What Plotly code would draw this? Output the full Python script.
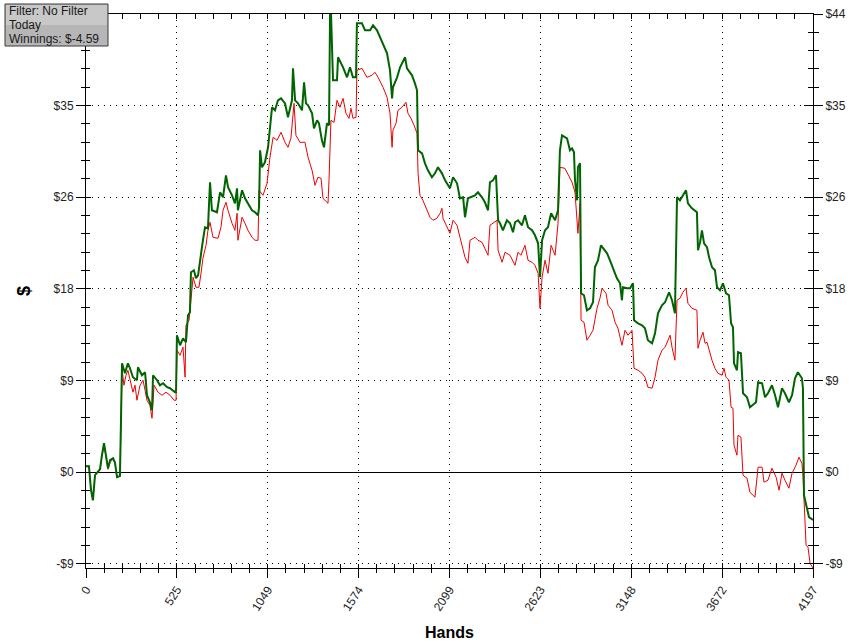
import plotly.graph_objects as go

# ---- data ----
green_hands = [0, 17, 29, 40, 52, 64, 81, 92, 104, 115, 127, 139, 156, 167, 179, 196, 202, 208, 225, 242,
               254, 271, 294, 300, 323, 341, 352, 369, 381, 387, 410, 427, 445, 468, 485, 514, 520, 525, 543, 560,
               577, 589, 600, 606, 623, 635, 647, 664, 675, 687, 704, 716, 727, 756, 774, 791, 808, 820, 843, 860,
               872, 877, 901, 918, 935, 958, 976, 993, 999, 1005, 1016, 1033, 1051, 1062, 1074, 1091, 1108, 1126, 1149, 1166,
               1178, 1189, 1195, 1207, 1224, 1247, 1259, 1270, 1282, 1305, 1316, 1334, 1345, 1362, 1374, 1391, 1403, 1409, 1414, 1426,
               1449, 1455, 1484, 1495, 1507, 1524, 1541, 1559, 1564, 1593, 1611, 1640, 1657, 1680, 1715, 1738, 1755, 1767, 1772, 1796,
               1813, 1842, 1853, 1882, 1899, 1911, 1917, 1940, 1957, 1974, 1997, 2015, 2032, 2055, 2073, 2101, 2119, 2142, 2159, 2177,
               2188, 2205, 2246, 2263, 2286, 2303, 2321, 2332, 2350, 2367, 2379, 2390, 2407, 2430, 2448, 2465, 2477, 2494, 2517, 2534,
               2552, 2575, 2592, 2610, 2621, 2633, 2650, 2667, 2685, 2708, 2725, 2736, 2748, 2777, 2794, 2806, 2817, 2823, 2835, 2840,
               2852, 2858, 2875, 2892, 2910, 2927, 2938, 2956, 2973, 2985, 3008, 3025, 3042, 3065, 3083, 3094, 3100, 3123, 3141, 3158,
               3164, 3187, 3210, 3227, 3244, 3268, 3285, 3302, 3325, 3343, 3366, 3383, 3400, 3412, 3429, 3446, 3464, 3475, 3498, 3527,
               3533, 3545, 3556, 3568, 3585, 3597, 3614, 3631, 3643, 3660, 3677, 3695, 3712, 3724, 3735, 3741, 3758, 3764, 3781, 3793,
               3816, 3833, 3868, 3880, 3903, 3920, 3937, 3960, 3978, 3995, 4018, 4035, 4058, 4076, 4093, 4110, 4133, 4139, 4145, 4162,
               4174, 4197]
green_dollars = [0.58, 0.58, -1.73, -2.69, -0.29, 0.0, 0.29, 1.63, 2.78, 1.63, 0.38, 1.15, 1.34, 0.96, -0.48, -0.38, 6.91, 10.46, 9.50, 10.46,
                 9.98, 9.12, 8.83, 10.08, 9.31, 9.60, 7.39, 6.72, 5.95, 9.31, 8.83, 8.35, 8.54, 8.16, 8.06, 7.68, 7.87, 13.15, 12.19, 12.86,
                 12.48, 15.07, 15.36, 19.20, 19.39, 18.62, 18.91, 21.31, 22.27, 23.52, 23.42, 27.84, 25.15, 24.96, 26.88, 26.40, 28.51, 27.36, 26.59, 25.82,
                 27.26, 25.15, 27.07, 26.30, 25.82, 25.15, 24.96, 24.67, 25.44, 30.91, 29.28, 29.76, 31.20, 33.31, 35.04, 34.75, 35.71, 35.90, 35.42, 34.08,
                 35.04, 35.71, 38.78, 35.71, 35.42, 34.75, 37.44, 35.42, 35.23, 34.46, 33.02, 33.79, 33.50, 31.87, 31.20, 33.50, 33.31, 44.30, 44.30, 37.63,
                 37.63, 39.84, 38.88, 38.40, 37.92, 38.88, 37.92, 37.92, 43.10, 43.10, 42.43, 42.43, 42.91, 42.43, 41.18, 40.22, 38.59, 35.90, 36.96, 37.92,
                 38.88, 39.84, 38.78, 38.11, 37.34, 36.67, 30.91, 30.62, 29.66, 28.99, 28.32, 28.70, 29.28, 28.70, 28.03, 27.26, 28.32, 27.74, 26.30, 26.40,
                 24.48, 26.30, 26.59, 26.88, 26.40, 25.92, 25.15, 27.84, 28.03, 28.51, 24.19, 23.90, 23.23, 24.19, 23.90, 23.04, 24.00, 24.19, 23.71, 24.67,
                 23.52, 23.23, 22.75, 21.98, 18.72, 22.27, 23.23, 23.52, 24.86, 24.19, 25.15, 30.91, 32.35, 32.06, 30.91, 31.10, 30.72, 28.03, 26.11, 29.28,
                 29.66, 17.18, 16.99, 15.55, 15.74, 16.32, 19.68, 20.35, 21.79, 21.50, 21.02, 20.35, 19.68, 18.62, 18.14, 16.51, 17.76, 17.66, 17.66, 18.14,
                 14.59, 14.30, 14.11, 13.82, 12.67, 12.38, 13.34, 15.26, 16.03, 16.32, 17.28, 16.51, 15.26, 26.40, 26.11, 26.59, 27.07, 25.82, 25.34, 24.96,
                 21.31, 22.08, 23.23, 21.98, 21.60, 20.64, 19.68, 19.39, 17.76, 17.47, 18.14, 17.18, 16.99, 14.30, 13.92, 10.46, 9.79, 11.52, 11.42, 7.58,
                 7.20, 6.24, 6.72, 8.64, 8.54, 7.20, 7.58, 8.35, 7.39, 6.24, 8.06, 7.58, 6.72, 7.39, 9.02, 9.60, 9.02, 8.06, -2.21, -3.46,
                 -4.32, -4.59]

red_hands = [0, 17, 29, 40, 52, 64, 81, 92, 104, 115, 127, 139, 156, 167, 179, 196, 202, 208, 219, 231,
             242, 254, 271, 283, 294, 312, 329, 341, 352, 369, 381, 393, 416, 439, 462, 485, 508, 520, 525, 543,
             560, 572, 577, 595, 618, 635, 652, 664, 675, 693, 704, 716, 733, 762, 779, 791, 808, 820, 843, 860,
             872, 877, 901, 918, 935, 958, 976, 993, 999, 1022, 1045, 1062, 1080, 1103, 1126, 1149, 1166, 1183, 1201, 1212,
             1235, 1264, 1282, 1305, 1322, 1339, 1357, 1368, 1391, 1397, 1403, 1414, 1432, 1449, 1466, 1484, 1501, 1518, 1530, 1541,
             1559, 1564, 1593, 1622, 1651, 1668, 1686, 1715, 1738, 1755, 1767, 1772, 1790, 1801, 1824, 1847, 1859, 1876, 1894, 1911,
             1917, 1928, 1945, 1969, 1986, 2003, 2026, 2044, 2055, 2061, 2084, 2101, 2119, 2142, 2159, 2188, 2205, 2217, 2246, 2263,
             2286, 2303, 2321, 2332, 2350, 2373, 2379, 2402, 2419, 2448, 2477, 2494, 2511, 2534, 2552, 2575, 2592, 2610, 2621, 2633,
             2650, 2667, 2685, 2708, 2725, 2736, 2765, 2794, 2806, 2823, 2840, 2852, 2858, 2875, 2892, 2910, 2927, 2950, 2967, 2979,
             3002, 3014, 3037, 3054, 3071, 3094, 3112, 3129, 3152, 3164, 3187, 3210, 3227, 3244, 3268, 3285, 3302, 3325, 3343, 3372,
             3383, 3400, 3412, 3429, 3446, 3464, 3475, 3498, 3527, 3533, 3545, 3562, 3574, 3585, 3597, 3614, 3631, 3648, 3672, 3683,
             3695, 3712, 3724, 3735, 3741, 3758, 3764, 3781, 3793, 3816, 3833, 3862, 3880, 3903, 3914, 3937, 3960, 3984, 4001, 4018,
             4035, 4058, 4076, 4099, 4116, 4133, 4139, 4145, 4157, 4168, 4180, 4197]
red_dollars = [0.58, 0.58, -1.73, -2.69, -0.29, -0.10, 0.19, 1.54, 2.69, 1.54, 0.29, 0.96, 1.25, 0.86, -0.48, -0.38, 6.91, 9.98, 8.35, 9.31,
               9.79, 9.02, 7.68, 8.35, 6.91, 8.35, 8.83, 7.87, 6.91, 6.43, 5.18, 8.35, 7.68, 7.39, 7.68, 7.39, 6.91, 6.91, 11.71, 11.23,
               12.00, 9.12, 14.11, 14.59, 18.72, 17.76, 17.76, 19.10, 20.54, 21.79, 23.23, 24.00, 22.56, 22.46, 23.52, 25.15, 25.92, 25.15, 23.90, 23.23,
               24.86, 22.27, 24.48, 23.90, 23.23, 22.56, 22.27, 22.27, 27.07, 26.59, 27.74, 30.24, 32.16, 31.87, 32.64, 31.68, 31.20, 32.06, 35.42, 32.35,
               31.68, 31.68, 30.24, 28.99, 27.55, 28.32, 28.22, 26.30, 25.92, 25.82, 28.03, 33.79, 33.60, 35.71, 35.04, 35.90, 34.46, 33.98, 34.94, 33.98,
               34.08, 38.59, 38.78, 37.92, 38.11, 38.40, 37.92, 36.96, 36.00, 34.46, 31.20, 32.83, 33.50, 34.75, 35.04, 35.52, 34.46, 33.98, 33.31, 32.54,
               28.70, 26.59, 26.11, 25.15, 24.48, 24.19, 24.38, 24.86, 25.34, 24.38, 23.52, 22.94, 24.19, 23.71, 22.56, 20.64, 20.06, 22.27, 22.56, 22.27,
               22.08, 21.50, 20.83, 23.71, 23.90, 24.19, 21.31, 20.16, 21.12, 20.83, 19.87, 21.12, 20.83, 21.79, 20.35, 20.16, 19.87, 19.10, 15.74, 18.72,
               20.35, 19.10, 21.79, 20.83, 23.90, 29.28, 29.18, 28.22, 27.84, 26.88, 22.94, 25.82, 14.59, 14.40, 12.67, 13.15, 13.63, 15.74, 16.70, 17.66,
               17.18, 16.03, 15.55, 14.40, 13.82, 12.19, 13.63, 13.15, 13.63, 9.98, 9.79, 9.50, 9.12, 8.16, 8.06, 9.12, 10.75, 11.71, 12.00, 13.15,
               12.00, 10.75, 16.51, 16.70, 17.28, 17.66, 16.22, 15.74, 15.55, 11.90, 12.67, 13.44, 12.38, 12.48, 11.71, 10.75, 9.98, 9.50, 9.31, 9.98,
               9.12, 8.83, 6.24, 6.14, 2.59, 1.63, 3.55, 3.36, -0.29, -0.58, -1.92, -2.40, 0.48, 0.48, -0.96, -0.77, 0.38, -0.48, -1.73, -0.10,
               -0.77, -1.54, -0.10, 0.67, 1.44, 0.86, -0.29, -2.40, -7.01, -7.20, -8.74, -9.22]

x_tick_values = [0, 524.625, 1049.25, 1573.875, 2098.5, 2623.125, 3147.75, 3672.375, 4197]
x_tick_labels = ["0", "525", "1049", "1574", "2099", "2623", "3148", "3672", "4197"]
y_tick_values = [-8.8, 0, 8.8, 17.6, 26.4, 35.2, 44]
y_tick_labels = ["-$9", "$0", "$9", "$18", "$26", "$35", "$44"]
y_tick_labels_left = ["-$9", "$0", "$9", "$18", "$26", "$35", ""]  # $44 is hidden under the info box
info_lines = ["Filter: No Filter", "Today", "Winnings: $-4.59"]

X_RANGE = [0, 4197]
Y_RANGE = [-9.2, 44]

FONT = "Liberation Sans, Arial, sans-serif"
tickfont = dict(family=FONT, size=12, color="#222222")

# plot-area geometry in pixels (for paper-coordinate placement of the info box)
L, R, T, B = 86, 45, 14, 76
W, H = 858, 644
PW, PH = W - L - R, H - T - B


def px_x(p):
    return (p - L) / PW


def px_y(p):
    return (H - B - p) / PH


fig = go.Figure()
fig.add_trace(go.Scatter(x=red_hands, y=red_dollars, mode="lines",
                         line=dict(color="#ee0000", width=1), hoverinfo="skip"))
fig.add_trace(go.Scatter(x=green_hands, y=green_dollars, mode="lines",
                         line=dict(color="#006400", width=2), hoverinfo="skip"))
# empty traces only register the extra overlaid axes (crossing ticks, top/right axes)
for xa, ya in [("x2", "y2"), ("x3", "y3"), ("x2", "y4")]:
    fig.add_trace(go.Scatter(x=[], y=[], xaxis=xa, yaxis=ya, mode="lines", hoverinfo="skip"))

x_minor = dict(tick0=0, dtick=4197 / 40, tickcolor="black", showgrid=False)
y_minor = dict(tick0=0, dtick=8.8 / 5, tickcolor="black", showgrid=False)

fig.update_layout(
    width=W, height=H,
    margin=dict(l=L, r=R, t=T, b=B, autoexpand=False),
    paper_bgcolor="white", plot_bgcolor="white",
    showlegend=False,
    xaxis=dict(range=X_RANGE, tickmode="array", tickvals=x_tick_values, ticktext=x_tick_labels,
               tickangle=-57, ticks="outside", ticklen=9, tickcolor="black", tickfont=tickfont,
               showline=True, linecolor="black", linewidth=1, automargin=False,
               showgrid=True, gridcolor="black", griddash="1px,5px", gridwidth=1, zeroline=False,
               minor=dict(ticks="outside", ticklen=4, **x_minor),
               title=dict(text="<b>Hands</b>", font=dict(family=FONT, size=16, color="black"), standoff=14)),
    xaxis2=dict(range=X_RANGE, overlaying="x", anchor="y", side="bottom", tickmode="array",
                tickvals=x_tick_values, ticks="inside", ticklen=4, tickcolor="black", automargin=False,
                showticklabels=False, showgrid=False, zeroline=False, showline=False,
                minor=dict(ticks="inside", ticklen=4, **x_minor)),
    xaxis3=dict(range=X_RANGE, overlaying="x", anchor="y", side="top", tickmode="array",
                tickvals=x_tick_values, ticks="inside", ticklen=5, tickcolor="black", automargin=False,
                showticklabels=False, showgrid=False, zeroline=False, showline=True, linecolor="black",
                minor=dict(ticks="inside", ticklen=5, **x_minor)),
    yaxis=dict(range=Y_RANGE, tickmode="array", tickvals=y_tick_values, ticktext=y_tick_labels_left,
               ticks="outside", ticklen=9, tickcolor="black", tickfont=tickfont, automargin=False,
               showline=True, linecolor="black", linewidth=1,
               showgrid=True, gridcolor="black", griddash="1px,5px", gridwidth=1,
               zeroline=True, zerolinecolor="black", zerolinewidth=1,
               minor=dict(ticks="outside", ticklen=4, **y_minor),
               title=dict(text="<b>$</b>", font=dict(family=FONT, size=18, color="black"), standoff=18)),
    yaxis2=dict(range=Y_RANGE, overlaying="y", anchor="x", side="left", tickmode="array",
                tickvals=y_tick_values, ticks="inside", ticklen=5, tickcolor="black", automargin=False,
                showticklabels=False, showgrid=False, zeroline=False, showline=False,
                minor=dict(ticks="inside", ticklen=4, **y_minor)),
    yaxis3=dict(range=Y_RANGE, overlaying="y", anchor="x", side="right", tickmode="array",
                tickvals=y_tick_values, ticktext=y_tick_labels, ticks="outside", ticklen=9,
                tickcolor="black", tickfont=tickfont, showticklabels=True, automargin=False,
                showgrid=False, zeroline=False, showline=True, linecolor="black",
                minor=dict(ticks="outside", ticklen=5, **y_minor)),
    yaxis4=dict(range=Y_RANGE, overlaying="y", anchor="x", side="right", tickmode="array",
                tickvals=y_tick_values, ticks="inside", ticklen=9, tickcolor="black", automargin=False,
                showticklabels=False, showgrid=False, zeroline=False, showline=False,
                minor=dict(ticks="inside", ticklen=5, **y_minor)),
)

# info box (top-left)
fig.add_shape(type="rect", xref="paper", yref="paper",
              x0=px_x(5), x1=px_x(108), y0=px_y(46), y1=px_y(4),
              fillcolor="#b6b6b6", line=dict(color="#3a3a3a", width=1), layer="above")
fig.add_shape(type="rect", xref="paper", yref="paper",
              x0=px_x(6), x1=px_x(107), y0=px_y(25), y1=px_y(5),
              fillcolor="#c8c8c8", line=dict(width=0), layer="above")
for i, line in enumerate(info_lines):
    fig.add_annotation(xref="paper", yref="paper", x=px_x(7), y=px_y(11 + 14 * i),
                       xanchor="left", yanchor="middle", showarrow=False, align="left",
                       text=line, font=dict(family=FONT, size=12, color="#1a1a1a"))

# remove the browser's default 8px page margin so the figure sits at the window's corner
fig.write_html("out.html", config={"displayModeBar": False},
               post_script="document.body.style.margin='0';")
